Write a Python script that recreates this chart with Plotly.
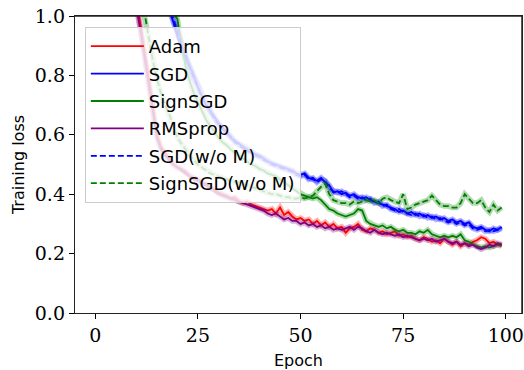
import plotly.graph_objects as go

epochs = list(range(100))

adam = [2.30, 2.15, 2.00, 1.85, 1.72, 1.60, 1.48, 1.36, 1.25, 1.14,
        1.05, 0.97, 0.88, 0.80, 0.70, 0.60, 0.56, 0.54, 0.52, 0.50,
        0.49, 0.485, 0.475, 0.46, 0.455, 0.45, 0.44, 0.435, 0.42, 0.415,
        0.405, 0.40, 0.395, 0.385, 0.39, 0.375, 0.37, 0.375, 0.365, 0.36,
        0.355, 0.35, 0.345, 0.35, 0.335, 0.355, 0.33, 0.34, 0.325, 0.315,
        0.32, 0.31, 0.315, 0.30, 0.31, 0.295, 0.305, 0.29, 0.30, 0.285,
        0.29, 0.27, 0.285, 0.29, 0.30, 0.28, 0.275, 0.285, 0.28, 0.27,
        0.275, 0.265, 0.27, 0.275, 0.26, 0.265, 0.255, 0.26, 0.25, 0.245,
        0.255, 0.25, 0.24, 0.245, 0.235, 0.25, 0.24, 0.23, 0.24, 0.225,
        0.235, 0.23, 0.24, 0.245, 0.255, 0.25, 0.235, 0.24, 0.23, 0.225]

sgd = [2.40, 2.30, 2.20, 2.10, 2.00, 1.91, 1.82, 1.74, 1.66, 1.58,
       1.50, 1.43, 1.36, 1.29, 1.23, 1.17, 1.11, 1.06, 1.02, 0.98,
       0.93, 0.89, 0.86, 0.83, 0.80, 0.76, 0.73, 0.70, 0.68, 0.66,
       0.64, 0.62, 0.61, 0.59, 0.58, 0.57, 0.56, 0.55, 0.54, 0.535,
       0.53, 0.52, 0.51, 0.505, 0.50, 0.495, 0.49, 0.485, 0.48, 0.47,
       0.465, 0.47, 0.455, 0.45, 0.445, 0.455, 0.44, 0.43, 0.405, 0.41,
       0.40, 0.405, 0.395, 0.40, 0.39, 0.385, 0.39, 0.38, 0.375, 0.37,
       0.365, 0.36, 0.355, 0.35, 0.34, 0.345, 0.335, 0.34, 0.33, 0.335,
       0.325, 0.33, 0.32, 0.325, 0.315, 0.32, 0.31, 0.315, 0.305, 0.31,
       0.30, 0.305, 0.29, 0.285, 0.29, 0.28, 0.275, 0.285, 0.28, 0.29]

signsgd = [2.20, 2.10, 2.00, 1.91, 1.82, 1.74, 1.66, 1.58, 1.51, 1.44,
           1.38, 1.32, 1.26, 1.21, 1.16, 1.12, 1.08, 1.05, 1.03, 1.01,
           0.99, 0.90, 0.83, 0.78, 0.74, 0.71, 0.68, 0.65, 0.63, 0.61,
           0.59, 0.575, 0.565, 0.55, 0.54, 0.53, 0.52, 0.51, 0.50, 0.495,
           0.485, 0.48, 0.47, 0.465, 0.46, 0.45, 0.44, 0.43, 0.42, 0.41,
           0.40, 0.395, 0.39, 0.385, 0.39, 0.38, 0.365, 0.35, 0.345, 0.335,
           0.33, 0.325, 0.33, 0.335, 0.35, 0.345, 0.31, 0.30, 0.295, 0.29,
           0.295, 0.285, 0.29, 0.28, 0.275, 0.28, 0.27, 0.27, 0.265, 0.275,
           0.27, 0.28, 0.265, 0.26, 0.255, 0.26, 0.255, 0.26, 0.255, 0.265,
           0.245, 0.24, 0.23, 0.225, 0.22, 0.225, 0.22, 0.225, 0.23, 0.23]

rmsprop = [2.25, 2.10, 1.95, 1.80, 1.68, 1.56, 1.45, 1.34, 1.23, 1.12,
           1.03, 0.95, 0.86, 0.77, 0.67, 0.59, 0.55, 0.53, 0.515, 0.50,
           0.49, 0.48, 0.47, 0.46, 0.45, 0.445, 0.435, 0.43, 0.42, 0.41,
           0.40, 0.395, 0.39, 0.385, 0.38, 0.375, 0.37, 0.365, 0.36, 0.355,
           0.35, 0.345, 0.335, 0.33, 0.335, 0.325, 0.315, 0.32, 0.31, 0.31,
           0.30, 0.305, 0.295, 0.30, 0.29, 0.295, 0.285, 0.29, 0.28, 0.285,
           0.28, 0.285, 0.29, 0.28, 0.29, 0.285, 0.275, 0.27, 0.28, 0.27,
           0.265, 0.27, 0.265, 0.26, 0.265, 0.255, 0.26, 0.255, 0.25, 0.245,
           0.25, 0.245, 0.25, 0.24, 0.245, 0.25, 0.24, 0.235, 0.24, 0.23,
           0.235, 0.225, 0.23, 0.22, 0.215, 0.22, 0.23, 0.225, 0.235, 0.23]

sgd_nom = [2.38, 2.28, 2.18, 2.08, 1.98, 1.89, 1.80, 1.72, 1.64, 1.56,
           1.49, 1.42, 1.35, 1.29, 1.23, 1.17, 1.12, 1.07, 1.03, 0.99,
           0.95, 0.90, 0.87, 0.83, 0.79, 0.76, 0.72, 0.70, 0.675, 0.655,
           0.635, 0.625, 0.605, 0.595, 0.575, 0.565, 0.555, 0.545, 0.54, 0.53,
           0.525, 0.515, 0.51, 0.50, 0.495, 0.49, 0.485, 0.48, 0.475, 0.465,
           0.46, 0.465, 0.45, 0.455, 0.44, 0.45, 0.445, 0.42, 0.41, 0.405,
           0.41, 0.40, 0.39, 0.395, 0.385, 0.39, 0.38, 0.385, 0.37, 0.375,
           0.36, 0.365, 0.35, 0.345, 0.35, 0.34, 0.335, 0.33, 0.335, 0.325,
           0.33, 0.32, 0.325, 0.315, 0.32, 0.31, 0.305, 0.31, 0.30, 0.305,
           0.295, 0.30, 0.285, 0.28, 0.285, 0.275, 0.28, 0.275, 0.28, 0.285]

signsgd_nom = [2.10, 1.98, 1.86, 1.75, 1.64, 1.54, 1.45, 1.36, 1.28, 1.20,
               1.13, 1.06, 1.01, 0.93, 0.85, 0.79, 0.74, 0.70, 0.67, 0.63,
               0.59, 0.57, 0.55, 0.53, 0.515, 0.50, 0.49, 0.48, 0.47, 0.465,
               0.46, 0.455, 0.45, 0.445, 0.44, 0.44, 0.435, 0.43, 0.425, 0.42,
               0.415, 0.41, 0.405, 0.40, 0.40, 0.395, 0.39, 0.39, 0.385, 0.385,
               0.39, 0.385, 0.39, 0.395, 0.41, 0.425, 0.435, 0.40, 0.38, 0.375,
               0.37, 0.37, 0.365, 0.375, 0.37, 0.375, 0.38, 0.375, 0.38, 0.37,
               0.385, 0.39, 0.38, 0.375, 0.37, 0.40, 0.35, 0.355, 0.365, 0.37,
               0.375, 0.38, 0.395, 0.38, 0.365, 0.36, 0.36, 0.355, 0.355, 0.37,
               0.40, 0.385, 0.37, 0.37, 0.38, 0.355, 0.34, 0.365, 0.345, 0.355]

names = ["Adam", "SGD", "SignSGD", "RMSprop", "SGD(w/o M)", "SignSGD(w/o M)"]
series = [adam, sgd, signsgd, rmsprop, sgd_nom, signsgd_nom]
colors = ["#ff0000", "#0000ff", "#008000", "#800080", "#0000ff", "#008000"]
band_colors = ["rgba(255,0,0,0.3)", "rgba(0,0,255,0.3)", "rgba(0,128,0,0.3)",
               "rgba(128,0,128,0.3)", "rgba(0,0,255,0.3)", "rgba(0,128,0,0.3)"]
dashes = ["solid", "solid", "solid", "solid", "6px,3px", "6px,3px"]

fig = go.Figure()
for name, ys, c, bc, d in zip(names, series, colors, band_colors, dashes):
    fig.add_trace(go.Scatter(x=epochs, y=ys, mode="lines", legendgroup=name,
                             showlegend=False, hoverinfo="skip",
                             line=dict(color=bc, width=5.5)))
    fig.add_trace(go.Scatter(x=epochs, y=ys, mode="lines", name=name,
                             legendgroup=name,
                             line=dict(color=c, width=1.8, dash=d)))

# top and right spines drawn explicitly as well
fig.add_shape(type="line", xref="paper", yref="paper", x0=0, x1=1, y0=1, y1=1,
              line=dict(color="#222222", width=1.5), layer="above")
fig.add_shape(type="line", xref="paper", yref="paper", x0=1, x1=1, y0=0, y1=1,
              line=dict(color="#222222", width=1.5), layer="above")

fig.update_layout(
    width=524, height=370,
    margin=dict(l=75, r=2, t=16, b=57),
    plot_bgcolor="white", paper_bgcolor="white",
    font=dict(family="DejaVu Sans", color="black"),
    legend=dict(x=0.022, y=0.963, xanchor="left", yanchor="top",
                bgcolor="rgba(255,255,255,0.8)", bordercolor="#cccccc",
                borderwidth=1, font=dict(family="DejaVu Sans", size=18),
                tracegroupgap=1, itemwidth=53),
    xaxis=dict(range=[-4.95, 103.95], tickvals=[0, 25, 50, 75, 100],
               ticks="outside", ticklen=5, tickcolor="black",
               showline=True, linecolor="#222222", linewidth=1.4, mirror=True,
               showgrid=False, zeroline=False, automargin=False,
               ticklabeloverflow="allow",
               tickfont=dict(family="DejaVu Serif", size=19),
               title=dict(text="Epoch", font=dict(family="DejaVu Sans", size=16),
                          standoff=12)),
    yaxis=dict(range=[0, 1.0], tickvals=[0, 0.2, 0.4, 0.6, 0.8, 1.0],
               tickformat=".1f",
               ticks="outside", ticklen=5, tickcolor="black",
               showline=True, linecolor="#222222", linewidth=1.4, mirror=True,
               showgrid=False, zeroline=False, automargin=False,
               ticklabeloverflow="allow",
               tickfont=dict(family="DejaVu Serif", size=19),
               title=dict(text="Training loss", font=dict(family="DejaVu Sans", size=16),
                          standoff=6)),
)

# remove the default 8px page margin so the 524x370 figure fills the window exactly
fig.write_html("out.html",
               config={"displayModeBar": False},
               post_script="document.body.style.margin='0';"
                           "document.documentElement.style.overflow='hidden';")
